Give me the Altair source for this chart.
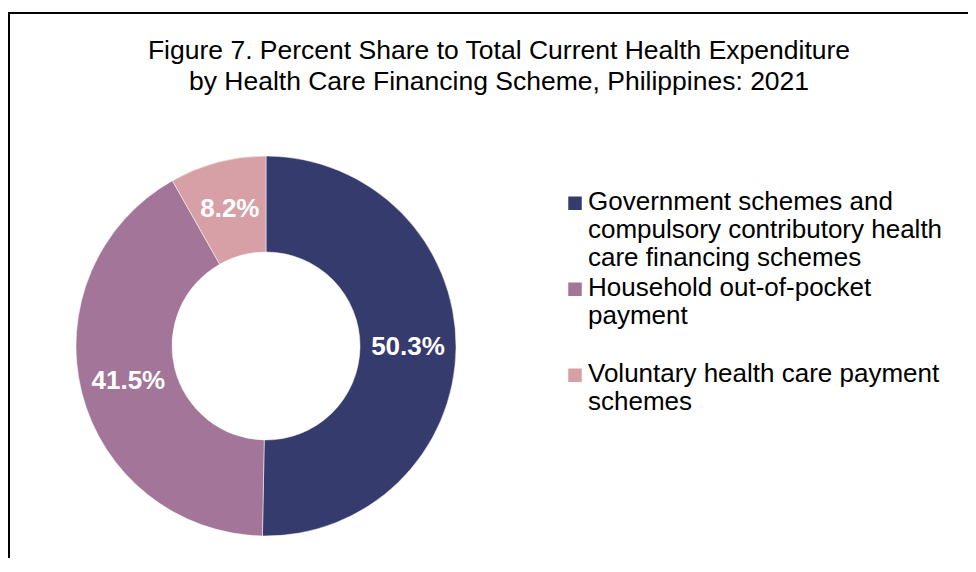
import altair as alt
import pandas as pd

# ---- data ----
categories = [
    "Government schemes and compulsory contributory health care financing schemes",
    "Household out-of-pocket payment",
    "Voluntary health care payment schemes",
]
legend_lines = [
    ["Government schemes and", "compulsory contributory health", "care financing schemes"],
    ["Household out-of-pocket", "payment"],
    ["Voluntary health care payment", "schemes"],
]
shares = [50.3, 41.5, 8.2]
share_labels = ["50.3%", "41.5%", "8.2%"]
slice_order = [0, 1, 2]
colors = ["#363B6D", "#A27599", "#D6A0A6"]
title_lines = [
    "Figure 7. Percent Share to Total Current Health Expenditure",
    "by Health Care Financing Scheme, Philippines: 2021",
]

df = pd.DataFrame({
    "scheme": categories,
    "share": shares,
    "label": share_labels,
    "order": slice_order,
})

# legend label expression: split each category into its display lines
expr = ""
for cat, lines in zip(categories, legend_lines):
    arr = "[" + ",".join("'" + l + "'" for l in lines) + "]"
    expr += f"datum.label == '{cat}' ? {arr} : "
expr += "datum.label"

FONT = "Liberation Sans"

legend = alt.Legend(
    title=None,
    orient="none",
    legendX=554,
    legendY=51,
    direction="vertical",
    symbolType="M-1,-2H1V0H-1Z",
    symbolSize=182,
    symbolStrokeWidth=0,
    symbolOpacity=1,
    labelFont=FONT,
    labelFontSize=26,
    labelColor="black",
    labelLimit=600,
    labelOffset=0,
    labelBaseline="alphabetic",
    labelExpr=expr,
    rowPadding=4,
    gridAlign="all",
    padding=0,
)

base = alt.Chart(df).encode(
    theta=alt.Theta("share:Q", stack=True),
    order=alt.Order("order:Q"),
)

arcs = base.mark_arc(innerRadius=94, outerRadius=190, stroke="white", strokeWidth=0.5).encode(
    color=alt.Color(
        "scheme:N",
        sort=categories,
        scale=alt.Scale(domain=categories, range=colors),
        legend=legend,
    )
)

labels = base.mark_text(
    radius=142,
    font=FONT,
    fontSize=26,
    fontWeight="bold",
    color="white",
    align="center",
    baseline="middle",
).encode(text="label:N")

frame = alt.Chart(alt.Data(values=[{}])).mark_rect(
    fill="transparent", stroke="black", strokeWidth=2
).encode(
    x=alt.value(1), y=alt.value(-133), x2=alt.value(1400), y2=alt.value(900)
)

chart = alt.layer(frame, arcs, labels).properties(
    width=516,
    height=400,
    autosize=alt.AutoSizeParams(type="none"),
    padding={"left": 0, "top": 138, "right": 444, "bottom": 12},
    background="white",
    title=alt.TitleParams(
        text=title_lines,
        font=FONT,
        fontSize=26.5,
        fontWeight="normal",
        color="black",
        lineHeight=31,
        anchor="middle",
        frame="group",
        baseline="alphabetic",
        offset=0,
        dx=233,
        dy=104.5,
    ),
).configure_view(strokeWidth=0)

chart.save("out.html", embed_options={"renderer": "svg", "actions": False})
